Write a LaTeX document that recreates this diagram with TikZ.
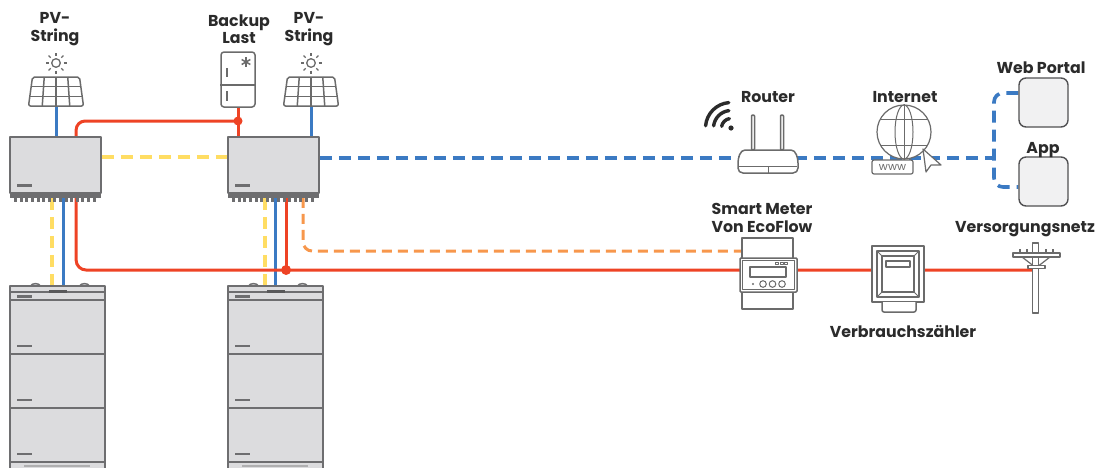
\documentclass[tikz,border=0pt]{standalone}
\usepackage{fontspec}
\setmainfont{Poppins}
\usetikzlibrary{calc}
\pgfdeclarelayer{wires}
\pgfsetlayers{wires,main}

\definecolor{txt}{HTML}{2B2B2B}
\definecolor{devline}{HTML}{6E6E70}
\definecolor{devfill}{HTML}{DCDCDE}
\definecolor{iconline}{HTML}{6B6B6B}
\definecolor{pwred}{HTML}{EE4325}
\definecolor{netblue}{HTML}{3B7AC3}
\definecolor{busyellow}{HTML}{FFDD63}
\definecolor{sigorange}{HTML}{F7974C}
\definecolor{tilefill}{HTML}{F1F1F2}
\definecolor{tileline}{HTML}{505052}

\tikzset{
  lbl/.style={font=\fontsize{15.8}{18}\selectfont\bfseries, text=txt, inner sep=0pt, anchor=base},
  icon/.style={draw=iconline, line width=1.5pt},
  thinicon/.style={draw=iconline, line width=1pt},
  inv/.style={draw=devline, fill=devfill, line width=1.8pt, minimum width=91pt, minimum height=56pt, inner sep=0pt},
  batt/.style={draw=devline, fill=devfill, line width=1.8pt, minimum width=95pt, minimum height=184pt, inner sep=0pt},
  acline/.style={draw=pwred, line width=3pt},
  dcline/.style={draw=netblue, line width=3pt},
  netline/.style={draw=netblue, line width=3.6pt, dash pattern=on 12pt off 7pt},
  busline/.style={draw=busyellow, line width=3.6pt, dash pattern=on 12pt off 7pt},
  sigline/.style={draw=sigorange, line width=3pt, dash pattern=on 10pt off 6pt},
  joint/.style={fill=pwred},
  tile/.style={draw=tileline, fill=tilefill, line width=1.4pt, rounded corners=7pt, minimum size=49pt, inner sep=0pt},
  meterbox/.style={draw=iconline, fill=white, line width=1.5pt, inner sep=0pt},
}

% solar panel with sun, #1 = centre x, #2 = name of the cable point
\newcommand\solarpanel[2]{%
  \begin{scope}[shift={(#1,0)}]
    \draw[icon, rounded corners=2pt, fill=white] (-23.5,77) -- (23.5,77) -- (27.5,106) -- (-27.5,106) -- cycle;
    \foreach \f in {-0.5,0,0.5} \draw[icon] (\f*23.5,77) -- (\f*27.5,106);
    \foreach \t in {1,2} \draw[icon] ({-23.5-4*\t/3},{77+29*\t/3}) -- ({23.5+4*\t/3},{77+29*\t/3});
    \draw[thinicon, line width=1.3pt] (0,63) circle[radius=4.3pt];
    \foreach \a in {0,45,...,315} \draw[thinicon, line width=1.3pt] (0,63) ++(\a:7.5pt) -- ++(\a:3pt);
  \end{scope}
  \coordinate (#2) at (#1,106);
}

% inverter details below and on the housing
\newcommand\invdetail[1]{%
  \fill[devline] ($(#1.south west)+(8,-10)$) rectangle ++(15,3);
  \fill[devline] ($(#1.south west)+(1,0)$) rectangle ($(#1.south east)+(-1,4)$);
  \foreach \k in {0,...,14} \fill[devline] ($(#1.south west)+(5+\k*5.6,4)$) rectangle ++(3,4);
}

% battery stack, #1 = name, #2 = left x
\newcommand\battstack[2]{%
  \begin{scope}[shift={(#2,0)}]
    \draw[devline, line width=1.4pt, fill=devfill] (20,286.5) .. controls (22,282.5) and (29,282.5) .. (31,286.5);
    \draw[devline, line width=1.4pt, fill=devfill] (69,286.5) .. controls (71,282.5) and (78,282.5) .. (80,286.5);
  \end{scope}
  \node[batt] (#1) at (#2+47.5,378) {};
  \begin{scope}[shift={(#2,0)}]
    \foreach \yy in {292,300,354,408,462} \draw[devline, line width=1.8pt] (0,\yy) -- (95,\yy);
    \draw[devline!80!black, line width=2.4pt] (39,291.5) -- (57,291.5);
    \fill[devline] (7,295) rectangle (22,297.5);
    \foreach \yy in {345,399,453} \fill[devline] (7,\yy) rectangle (22,\yy+2);
    \draw[devline!55, line width=1.5pt] (14,466) -- (80,466);
  \end{scope}
}

\begin{document}
\begin{tikzpicture}[x=1pt, y=-1pt, line join=round]
\useasboundingbox (0,0) rectangle (1107,467);

% ---------- devices ----------
\solarpanel{56}{pv1}
\solarpanel{311}{pv2}

% backup load (fridge)
\node[draw=iconline, fill=white, line width=1.5pt, rounded corners=3pt, minimum width=34pt, minimum height=55pt, inner sep=0pt] (fridge) at (238,79.5) {};
\draw[icon] (fridge.west |- 0,85) -- (fridge.east |- 0,85);
\draw[icon] (227,68) -- (227,77);
\draw[icon] (227,91) -- (227,101);
\foreach \a in {90,30,150} \draw[icon] (246,62) ++(\a:5pt) -- ++(\a+180:10pt);

% inverters
\node[inv] (inv1) at (55.5,165) {};
\invdetail{inv1}
\node[inv] (inv2) at (273.5,165) {};
\invdetail{inv2}

% battery stacks
\battstack{bat1}{10}
\battstack{bat2}{228}

% router
\coordinate (router) at (768,158);
\draw[icon, fill=white, rounded corners=1pt] (751.5,115) rectangle (754.5,150);
\draw[icon, fill=white, rounded corners=1pt] (780.5,115) rectangle (783.5,150);
\draw[icon, fill=white] (745,150) -- (791,150) .. controls (796,150) and (798,158) .. (798,163) -- (798,168)
  .. controls (798,171) and (796,173) .. (793,173) -- (743,173) .. controls (740,173) and (738,171) .. (738,168)
  -- (738,163) .. controls (738,158) and (740,150) .. (745,150) -- cycle;
\draw[thinicon] (739,166) -- (797,166);
\draw[thinicon] (768,166) -- (768,173);
% wifi symbol
\fill[txt] (731,128) circle[radius=2.6pt];
\draw[txt, line width=3.4pt, line cap=round] (731,128) ++(100:9.5pt) arc[start angle=100, end angle=170, radius=9.5pt];
\draw[txt, line width=3.4pt, line cap=round] (731,128) ++(97:17.5pt) arc[start angle=97, end angle=173, radius=17.5pt];
\draw[txt, line width=3.4pt, line cap=round] (731,128) ++(95:25.5pt) arc[start angle=95, end angle=175, radius=25.5pt];

% internet globe
\node[draw=iconline, fill=white, line width=1.2pt, circle, minimum size=54pt, inner sep=0pt] (globe) at (904,132) {};
\draw[thinicon] (globe.center) ellipse [x radius=9pt, y radius=27pt];
\draw[thinicon] (globe.north) -- (globe.south);
\draw[thinicon] (880.3,119) -- (927.7,119);
\draw[thinicon] (880.3,145) -- (927.7,145);
\node[draw=iconline, fill=white, line width=1.2pt, rounded corners=2pt, minimum width=41pt, minimum height=14pt, inner sep=0pt,
      font=\fontsize{11}{11}\selectfont, text=iconline] (www) at (892.5,167) {www};
\draw[thinicon, line width=1.2pt, fill=white] (923,149) -- (926,172) -- (931,165) -- (941,165) -- cycle;

% portal and app tiles
\node[tile] (portal) at (1043.5,102.5) {};
\node[tile] (app) at (1043.5,181.5) {};

% EcoFlow smart meter
\node[meterbox, minimum width=51pt, minimum height=71pt] (smart) at (767.5,273.5) {};
\draw[icon, fill=white, rounded corners=1pt] (740,258) rectangle (797,292);
\draw[thinicon, line width=0.8pt] (742.5,260.5) rectangle (794.5,289.5);
\draw[icon] (750,267) rectangle (786,277);
\foreach \x in {763,772.5,782} \draw[thinicon] (\x,284) circle[radius=3.3pt];
\fill[iconline] (753,284) circle[radius=1.1pt];
\foreach \x in {777,781.5,786} \draw[iconline, line width=0.5pt] (\x-1.3,262) rectangle (\x+1.3,264.5);

% utility meter
\node[meterbox, minimum width=52pt, minimum height=56pt] (vz) at (898,274) {};
\draw[icon] (877,251) rectangle (919,297);
\draw[icon] (882,256) rectangle (914,292);
\draw[thinicon] (877,251) -- (882,256) (919,251) -- (914,256) (877,297) -- (882,292) (919,297) -- (914,292);
\draw[icon] (886,261) rectangle (910,267);
\draw[icon, fill=white, rounded corners=2pt] (882,302) -- (882,312) -- (916,312) -- (916,302);

% grid pole
\coordinate (pole) at (1033,270);
\draw[thinicon, line width=1.2pt] (1020,249) -- (1020,253) (1027,249) -- (1027,253) (1046,249) -- (1046,253) (1053,249) -- (1053,253);
\draw[thinicon, line width=1.2pt] (1022,257) -- (1033,265.5) (1050,257) -- (1039,265.5);
\draw[icon, line width=1.2pt, fill=white] (1032.5,243) rectangle (1038.5,313);
\draw[icon, line width=1.2pt, fill=white] (1013,253) rectangle (1060,257);
\draw[icon, line width=1.2pt, fill=white] (1028,265.5) rectangle (1045,268.5);

% ---------- connections ----------
\begin{pgfonlayer}{wires}
  % PV strings
  \draw[dcline] (pv1) -- (pv1 |- inv1.north);
  \draw[dcline] (pv2) -- (pv2 |- inv2.north);
  % backup load feed
  \coordinate (bk) at (fridge.south |- 0,121);
  \draw[acline] (fridge.south) -- (fridge.south |- inv2.north);
  \draw[acline, rounded corners=9pt] (bk) -| ($(inv1.north west)+(67,0)$);
  % communication bus between the inverters
  \draw[busline] ($(inv1.east)+(0,-8)$) -- ($(inv2.west)+(0,-8)$);
  % network link
  \coordinate (netj) at (994,158);
  \draw[netline] ($(inv2.east)+(0,-7)$) -- (router) -- (globe.south |- netj) -- (netj);
  \draw[netline, rounded corners=9pt] ($(portal.west)+(0,-9.5)$) -| (netj) |- ($(app.west)+(0,5.5)$);
  % inverter 1 to its battery
  \draw[busline] ($(inv1.south west)+(43,4)$) coordinate (y1) -- (y1 |- bat1.north);
  \draw[dcline] ($(inv1.south west)+(54,4)$) coordinate (b1) -- (b1 |- bat1.north);
  % inverter 2 to its battery
  \draw[busline] ($(inv2.south west)+(38,4)$) coordinate (y2) -- (y2 |- bat2.north);
  \draw[dcline] ($(inv2.south west)+(48,4)$) coordinate (b2) -- (b2 |- bat2.north);
  % grid side AC
  \draw[acline, rounded corners=10pt] ($(inv1.south west)+(67,4)$) |- (pole);
  \draw[acline] ($(inv2.south west)+(59,4)$) coordinate (r2) -- (r2 |- pole);
  % meter signal
  \draw[sigline, rounded corners=9pt] ($(inv2.south west)+(76,4)$) |- ($(smart.west)+(0,-22.5)$);
\end{pgfonlayer}

\fill[joint] (bk) circle[radius=4.5pt];
\fill[joint] (r2 |- pole) circle[radius=5pt];

% ---------- labels ----------
\node[lbl] (l-pv1a) at (55,23) {PV-};
\node[lbl] (l-pv1b) at (55,41) {String};
\node[lbl] (l-bk1) at (239,26) {Backup};
\node[lbl] (l-bk2) at (239,43) {Last};
\node[lbl] (l-pv2a) at (309,23) {PV-};
\node[lbl] (l-pv2b) at (309,41) {String};
\node[lbl] (l-router) at (768,102) {Router};
\node[lbl] (l-net) at (905,102) {Internet};
\node[lbl] (l-portal) at (1041,73) {Web Portal};
\node[lbl] (l-app) at (1043,153) {App};
\node[lbl] (l-sm1) at (762,214) {Smart Meter};
\node[lbl] (l-sm2) at (762,232) {Von EcoFlow};
\node[lbl] (l-grid) at (1025,232) {Versorgungsnetz};
\node[lbl] (l-vz) at (903,337) {Verbrauchszähler};
\end{tikzpicture}
\end{document}
